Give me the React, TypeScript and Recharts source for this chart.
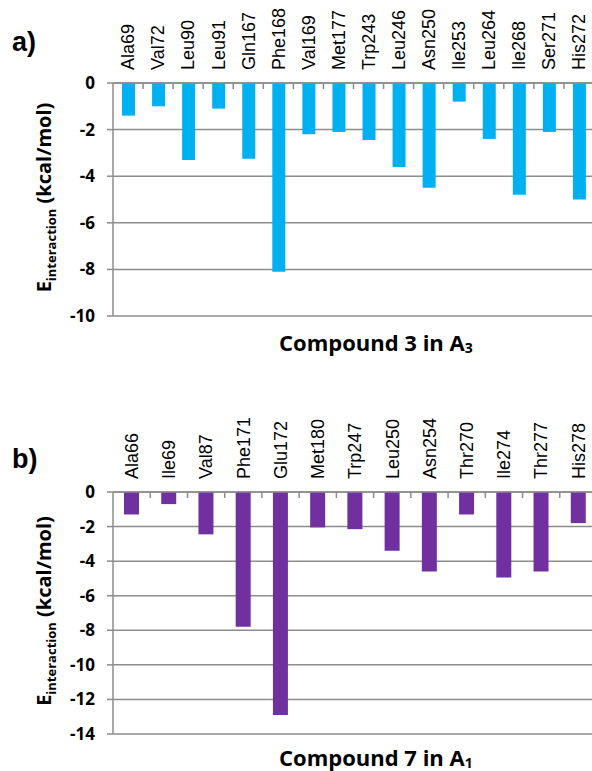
import { BarChart, Bar, XAxis, YAxis, CartesianGrid } from 'recharts';

const residuesA = ['Ala69', 'Val72', 'Leu90', 'Leu91', 'Gln167', 'Phe168', 'Val169', 'Met177', 'Trp243', 'Leu246', 'Asn250', 'Ile253', 'Leu264', 'Ile268', 'Ser271', 'His272'];
const energyA = [-1.4, -1.0, -3.3, -1.1, -3.25, -8.1, -2.2, -2.1, -2.45, -3.6, -4.5, -0.8, -2.4, -4.8, -2.1, -5.0];
const ticksA = [0, -2, -4, -6, -8, -10];

const residuesB = ['Ala66', 'Ile69', 'Val87', 'Phe171', 'Glu172', 'Met180', 'Trp247', 'Leu250', 'Asn254', 'Thr270', 'Ile274', 'Thr277', 'His278'];
const energyB = [-1.3, -0.7, -2.45, -7.8, -12.9, -2.05, -2.15, -3.4, -4.6, -1.3, -4.95, -4.6, -1.8];
const ticksB = [0, -2, -4, -6, -8, -10, -12, -14];

const GRID = '#8c8c8c';
const BOLD_FONT = '"Open Sans", sans-serif';
const LABEL_FONT = '"Liberation Sans", Arial, sans-serif';

const dataA = residuesA.map((name, i) => ({ name, value: energyA[i] }));
const dataB = residuesB.map((name, i) => ({ name, value: energyB[i] }));

// rotated residue name plus a small tick at the category boundary (Excel style)
const ResidueTick = ({ x, payload, axisY, band }: any) => (
  <g>
    <text
      x={x}
      y={axisY - 13}
      transform={`rotate(-90, ${x}, ${axisY - 13})`}
      dy="0.35em"
      textAnchor="start"
      fontSize={18}
      fontFamily={LABEL_FONT}
      fill="#000"
    >
      {payload.value}
    </text>
    <line x1={x + band / 2} x2={x + band / 2} y1={axisY} y2={axisY + 6} stroke={GRID} strokeWidth={1.5} />
  </g>
);

const EnergyTitle = ({ viewBox }: any) => {
  const cx = 44;
  const cy = viewBox.y + viewBox.height / 2 - 2;
  return (
    <text
      x={cx}
      y={cy}
      transform={`rotate(-90, ${cx}, ${cy})`}
      textAnchor="middle"
      dy="0.35em"
      fontFamily={BOLD_FONT}
      fontWeight={700}
      fontSize={20}
      fill="#000"
    >
      E
      <tspan fontSize={13} dy={5}>interaction</tspan>
      <tspan fontSize={20} dy={-5}> (kcal/mol)</tspan>
    </text>
  );
};

interface PanelProps {
  data: { name: string; value: number }[];
  ticks: number[];
  color: string;
  barSize: number;
  top: number;
  axisHeight: number;
  height: number;
  marginRight: number;
}

function Panel({ data, ticks, color, barSize, top, axisHeight, height, marginRight }: PanelProps) {
  const width = 600;
  const plotLeft = 113;
  const band = (width - marginRight - plotLeft) / data.length;
  return (
    <div style={{ position: 'absolute', left: 0, top }}>
      <BarChart
        width={width}
        height={height}
        data={data}
        margin={{ top: 0, right: marginRight, left: 0, bottom: 14 }}
        barCategoryGap={0}
      >
        <CartesianGrid vertical={false} stroke={GRID} strokeWidth={1.5} />
        <XAxis
          dataKey="name"
          orientation="top"
          height={axisHeight}
          axisLine={{ stroke: GRID, strokeWidth: 1.5 }}
          tickLine={false}
          interval={0}
          tick={(props: any) => <ResidueTick {...props} axisY={axisHeight} band={band} />}
        />
        <YAxis
          type="number"
          width={plotLeft}
          domain={[ticks[ticks.length - 1], 0]}
          ticks={ticks}
          interval={0}
          axisLine={{ stroke: GRID, strokeWidth: 1.5 }}
          tickLine={{ stroke: GRID, strokeWidth: 1.5 }}
          tickSize={6}
          tickMargin={12}
          tick={{ fontSize: 17, fontWeight: 700, fill: '#000', fontFamily: BOLD_FONT }}
          label={{ content: (p: any) => <EnergyTitle {...p} /> }}
        />
        <Bar dataKey="value" fill={color} barSize={barSize} isAnimationActive={false} />
      </BarChart>
    </div>
  );
}

export default function App() {
  return (
    <div style={{ position: 'absolute', left: 0, top: 0, width: 592, height: 771, overflow: 'hidden', background: '#fff' }}>
      <Panel data={dataA} ticks={ticksA} color="#00b0f0" barSize={13} top={0} axisHeight={83} height={330} marginRight={6} />
      <Panel data={dataB} ticks={ticksB} color="#7030a0" barSize={15} top={400} axisHeight={92} height={348} marginRight={3} />
      <svg width={592} height={771} style={{ position: 'absolute', left: 0, top: 0, pointerEvents: 'none' }}>
        <text x={12} y={51} fontFamily={LABEL_FONT} fontWeight={700} fontSize={27} fill="#000">a)</text>
        <text x={12} y={468} fontFamily={LABEL_FONT} fontWeight={700} fontSize={27} fill="#000">b)</text>
        <text x={279} y={351} fontFamily={BOLD_FONT} fontWeight={700} fontSize={22} fill="#000">
          Compound 3 in A<tspan fontSize={14} dy={2}>3</tspan>
        </text>
        <text x={279} y={766} fontFamily={BOLD_FONT} fontWeight={700} fontSize={22} fill="#000">
          Compound 7 in A<tspan fontSize={14} dy={2}>1</tspan>
        </text>
      </svg>
    </div>
  );
}
